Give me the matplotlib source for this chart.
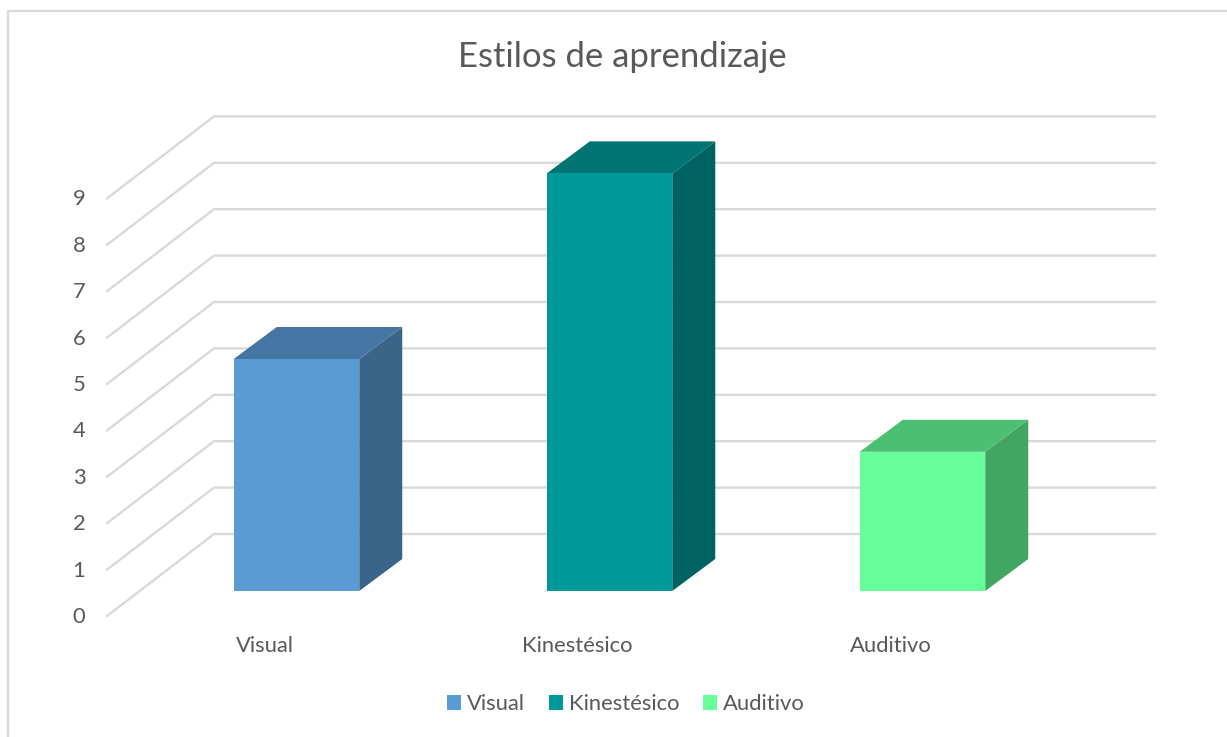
import matplotlib
matplotlib.use("Agg")
import matplotlib.pyplot as plt
from matplotlib.lines import Line2D
from matplotlib.patches import Polygon, Rectangle

categorias = ['Visual', 'Kinestésico', 'Auditivo']
valores = [5, 9, 3]
ticks_y = [0, 1, 2, 3, 4, 5, 6, 7, 8, 9]

cor_frente = ['#5B9BD5', '#009999', '#66FF99']
cor_lado = ['#3A6488', '#006363', '#42A663']
cor_topo = ['#4575A2', '#007373', '#4DBF73']
cinza = '#D9D9D9'
texto = '#595959'

plt.rcParams['font.family'] = ['Lato', 'DejaVu Sans']

W, H = 1227, 737
fig = plt.figure(figsize=(W / 100, H / 100), dpi=100)
ax = fig.add_axes([0, 0, 1, 1])

# a unit of x is one category (313 px), a unit of y is one tick (46.4 px)
ux, uy = 313.0, 46.4
x0, y0 = 296.5, 591.0
ax.set_xlim(-x0 / ux, (W - x0) / ux)
ax.set_ylim((y0 - H) / uy, y0 / uy)
ax.axis('off')

larg = 125.5 / ux
prof_x, prof_y = 43 / ux, 32 / uy

# floor offsets of the wall lines relative to the plane of the bars
fx, fy = (107 - x0) / ux, -25 / uy
bx, by = (214 - x0) / ux, 57 / uy
fim = (1155 - x0) / ux

for t in ticks_y:
    ax.plot([fx, bx, fim], [t + fy, t + by, t + by], color=cinza, lw=1.7,
            solid_joinstyle='miter', zorder=1)
    ax.text(fx - 28 / ux, t + fy - 1 / uy, str(t), color=texto, fontsize=15.8,
            ha='center', va='center')

for i, (cat, v) in enumerate(zip(categorias, valores)):
    e, d = i - larg / 2, i + larg / 2
    ax.add_patch(Polygon([(d, 0), (d + prof_x, prof_y), (d + prof_x, v + prof_y), (d, v)],
                         fc=cor_lado[i], ec='none', zorder=2))
    ax.add_patch(Polygon([(e, v), (e + prof_x, v + prof_y), (d + prof_x, v + prof_y), (d, v)],
                         fc=cor_topo[i], ec='none', zorder=2))
    ax.add_patch(Rectangle((e, 0), larg, v, fc=cor_frente[i], ec='none', zorder=3))
    ax.text(i - 32 / ux, -55 / uy, cat, color=texto, fontsize=15.8,
            ha='center', va='center')

fig.text(622 / W, 1 - 57 / H, 'Estilos de aprendizaje', color=texto, fontsize=24.9,
         ha='center', va='center')

# chart frame: only top and left edges are visible in the crop
fig.add_artist(Line2D([1, 7.5 / W, 7.5 / W], [1 - 10.5 / H, 1 - 10.5 / H, 0],
                      color=cinza, lw=1.7))

marcas = [Rectangle((0, 0), 1, 1, fc=c, ec='none') for c in cor_frente]
fig.legend(marcas, categorias, loc='center', bbox_to_anchor=(626 / W, 1 - 704 / H),
           ncol=3, frameon=False, fontsize=15.8, labelcolor=texto,
           handlelength=0.64, handleheight=0.64, handletextpad=0.27,
           columnspacing=1.09, borderpad=0)

fig.savefig('out.png', dpi=100, facecolor='white')
